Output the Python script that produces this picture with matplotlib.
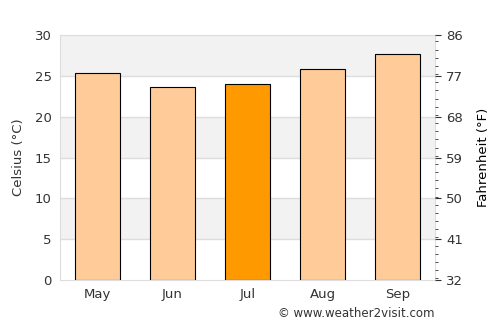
import matplotlib.pyplot as plt
from matplotlib.ticker import MultipleLocator

months = ["May", "Jun", "Jul", "Aug", "Sep"]
celsius = [25.4, 23.7, 24.0, 25.9, 27.7]
bar_colors = ["#ffcc99", "#ffcc99", "#ff9900", "#ffcc99", "#ffcc99"]
f_ticks = [32, 41, 50, 59, 68, 77, 86]

text_color = "#333333"
grid_color = "#dddddd"

fig = plt.figure(figsize=(5, 3.25), dpi=100)
ax = fig.add_axes([0.12, 0.1385, 0.75, 0.7535])

# alternating bands
for lo in range(0, 30, 5):
    if (lo // 5) % 2 == 1:
        ax.axhspan(lo, lo + 5, color="#f2f2f2", zorder=0, lw=0)
for y in range(5, 30, 5):
    ax.axhline(y, color=grid_color, lw=1, zorder=1)

x = range(len(months))
ax.bar(x, celsius, width=0.6, color=bar_colors, edgecolor="black", linewidth=0.8, zorder=3)

ax.set_xlim(-0.5, len(months) - 0.5)
ax.set_ylim(0, 30)
ax.set_xticks(list(x))
ax.set_xticklabels(months)
ax.set_yticks(range(0, 31, 5))
ax.tick_params(axis="both", colors=text_color, labelsize=9.5, length=0, pad=6)
ax.set_ylabel("Celsius (°C)", color=text_color, fontsize=9.5, labelpad=7)
for spine in ax.spines.values():
    spine.set_color(grid_color)

ax2 = ax.twinx()
ax2.set_ylim(32, 86)
ax2.set_yticks(f_ticks)
ax2.yaxis.set_minor_locator(MultipleLocator(1.8))
ax2.tick_params(axis="y", which="major", colors=text_color, labelsize=9.5, length=4, pad=4)
ax2.tick_params(axis="y", which="minor", color=text_color, length=2)
ax2.set_ylabel("Fahrenheit (°F)", color="black", fontsize=9.5, labelpad=10)
for spine in ax2.spines.values():
    spine.set_visible(False)

fig.text(0.87, 0.035, "© www.weather2visit.com", ha="right", va="center",
         fontsize=8.5, color=text_color)

fig.savefig("out.png", dpi=100)
